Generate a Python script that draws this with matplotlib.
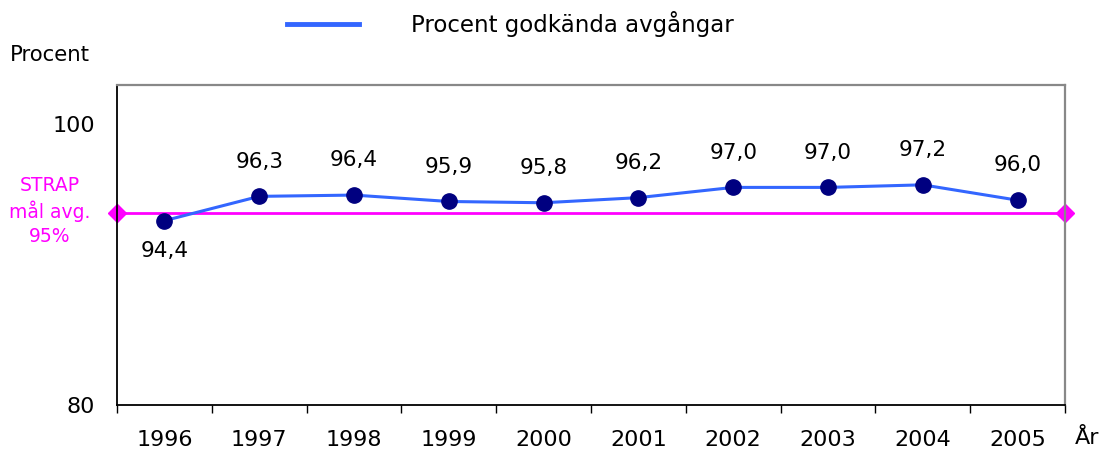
"""Procent godkända avgångar 1996-2005 mot STRAP-målet."""

import matplotlib
matplotlib.use("Agg")
import matplotlib.pyplot as plt
import matplotlib.transforms as mtransforms
from matplotlib.lines import Line2D

# Data
years = ["1996", "1997", "1998", "1999", "2000", "2001", "2002", "2003", "2004", "2005"]
percent_ok = [94.4, 96.3, 96.4, 95.9, 95.8, 96.2, 97.0, 97.0, 97.2, 96.0]
strap_goal = 95
y_ticks = [80, 100]

BLUE = "#3366FF"
NAVY = "#000080"
MAGENTA = "#FF00FF"

fig = plt.figure(figsize=(11.02, 4.5), dpi=100)
ax = fig.add_axes([117 / 1102, 45 / 450, 948 / 1102, 320 / 450])

x = list(range(len(years)))

# Main series
ax.plot(x, percent_ok, color=BLUE, linewidth=2.2, zorder=3)
ax.plot(x, percent_ok, linestyle="none", marker="o", markersize=11,
        markerfacecolor=NAVY, markeredgecolor=NAVY, zorder=4)

# Value labels (first point below, others above)
for i, v in enumerate(percent_ok):
    label = f"{v:.1f}".replace(".", ",")
    if i == 0:
        ax.annotate(label, (i, v), textcoords="offset points", xytext=(0, -22),
                    ha="center", va="center", fontsize=15.5)
    else:
        ax.annotate(label, (i, v), textcoords="offset points", xytext=(0, 25),
                    ha="center", va="center", fontsize=15.5)

# STRAP goal line with diamonds at the axis edges
ax.plot([-0.5, len(years) - 0.5], [strap_goal, strap_goal], color=MAGENTA,
        linewidth=2, marker="D", markersize=9.5, clip_on=False, zorder=2)
fig.text(50 / 1102, 1 - 211 / 450, "STRAP\nmål avg.\n95%", color=MAGENTA,
         fontsize=13.5, ha="center", va="center", linespacing=1.3)

# Axes
ax.set_xlim(-0.5, len(years) - 0.5)
ax.set_ylim(80, 105)
ax.set_xticks(x)
ax.set_xticklabels(years, fontsize=16)
ax.set_xticks([i - 0.5 for i in range(len(years) + 1)], minor=True)
ax.tick_params(axis="x", which="major", length=0, pad=18)
ax.tick_params(axis="x", which="minor", length=6, width=1, direction="out")
ax.set_yticks(y_ticks)
ax.set_yticklabels([str(t) for t in y_ticks], fontsize=16)
ax.tick_params(axis="y", length=0, pad=16)

# the "100" label sits higher than its value in the original
shift = mtransforms.ScaledTranslation(0, 0.25, fig.dpi_scale_trans)
top_label = ax.get_yticklabels()[1]
top_label.set_transform(top_label.get_transform() + shift)

for side in ("left", "bottom"):
    ax.spines[side].set_color("black")
    ax.spines[side].set_linewidth(1.3)
for side in ("top", "right"):
    ax.spines[side].set_color("#888888")
    ax.spines[side].set_linewidth(1.6)

fig.text(1075 / 1102, 1 - 438 / 450, "År", fontsize=16, ha="left", va="center")
fig.text(10 / 1102, 1 - 55 / 450, "Procent", fontsize=15.3, ha="left", va="center")

# Legend
handle = Line2D([], [], color=BLUE, linewidth=3.5)
fig.legend([handle], ["Procent godkända avgångar"], loc="center",
           bbox_to_anchor=(510 / 1102, 1 - 24 / 450), frameon=False,
           fontsize=16.5, handlelength=3.15, handletextpad=2.27)

plt.savefig("out.png", dpi=100)
plt.close()
